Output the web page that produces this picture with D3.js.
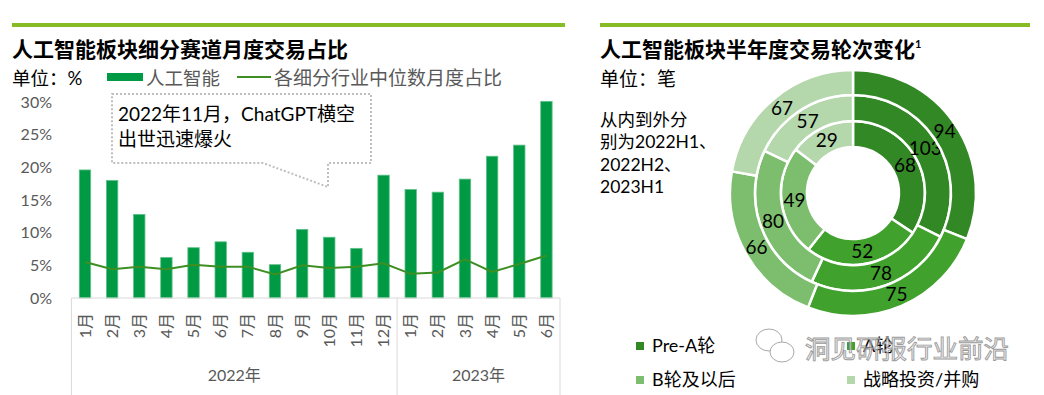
<!DOCTYPE html>
<html>
<head>
<meta charset="utf-8">
<script src="https://cdn.jsdelivr.net/npm/d3@7"></script>
<style>
  body { margin: 0; background: #fff; }
  svg { display: block; font-family: Lato, "Noto Sans CJK SC", sans-serif; }
</style>
</head>
<body>
<div id="chart-wrapper"></div>
<script>
let width = 1044, height = 395

// left chart data
let months = ["1月","2月","3月","4月","5月","6月","7月","8月","9月","10月","11月","12月","1月","2月","3月","4月","5月","6月"]
let years = ["2022年", "2023年"]
let aiShare = [19.6, 18.0, 12.8, 6.2, 7.7, 8.6, 7.0, 5.1, 10.5, 9.3, 7.6, 18.8, 16.6, 16.2, 18.2, 21.7, 23.4, 30.1]
let medianShare = [5.5, 4.4, 4.8, 4.4, 5.1, 4.8, 4.8, 3.6, 5.0, 4.6, 4.8, 5.3, 3.7, 3.9, 5.9, 4.0, 5.2, 6.5]
let yTicks = [0, 5, 10, 15, 20, 25, 30]

// right chart data (inner -> outer)
let rounds = ["Pre-A轮", "A轮", "B轮及以后", "战略投资/并购"]
let periods = ["2022H1", "2022H2", "2023H1"]
let h2022H1 = [68, 52, 49, 29]
let h2022H2 = [103, 78, 80, 57]
let h2023H1 = [94, 75, 66, 67]
let ringData = [h2022H1, h2022H2, h2023H1]

let color = ["#338826", "#40a22d", "#7cbe6e", "#b4d7ac"]
let gray = "#595959"

let svg = d3.select("#chart-wrapper").append("svg")
  .attr("width", width).attr("height", height)

// ---------- LEFT ----------
svg.append("rect").attr("x", 12).attr("y", 23).attr("width", 553).attr("height", 4).attr("fill", "#86bc25")
svg.append("text").attr("x", 12).attr("y", 57)
  .attr("font-size", 21).attr("font-weight", "bold").attr("fill", "#000")
  .text("人工智能板块细分赛道月度交易占比")
svg.append("text").attr("x", 12).attr("y", 85).attr("font-size", 18.5).attr("fill", "#000").text("单位：%")

// legend
svg.append("rect").attr("x", 107).attr("y", 73).attr("width", 36).attr("height", 8).attr("fill", "#009a44")
svg.append("text").attr("x", 146).attr("y", 85).attr("font-size", 18.5).attr("fill", gray).text("人工智能")
svg.append("line").attr("x1", 237).attr("x2", 271).attr("y1", 77).attr("y2", 77).attr("stroke", "#3d8f23").attr("stroke-width", 2)
svg.append("text").attr("x", 274).attr("y", 85).attr("font-size", 19).attr("fill", gray).text("各细分行业中位数月度占比")

let x = d3.scaleBand()
  .domain(d3.range(months.length))
  .range([71.4, 560])
  .paddingInner(0.58).paddingOuter(0.29)
let y = d3.scaleLinear().domain([0, 30]).range([298, 102])

let graph = svg.append("g")

// y labels
graph.append("g").attr("class", "yAxis")
  .selectAll("text").data(yTicks).enter().append("text")
  .attr("x", 52).attr("y", d => y(d)).attr("dy", "0.35em")
  .attr("text-anchor", "end").attr("font-size", 16).attr("fill", gray)
  .text(d => d + "%")

// bars
graph.selectAll(".bar").data(aiShare).enter().append("rect")
  .attr("class", "bar")
  .attr("x", (d, i) => x(i)).attr("width", x.bandwidth())
  .attr("y", d => y(d)).attr("height", d => y(0) - y(d))
  .attr("fill", "#009a44").attr("stroke", "#62c08a").attr("stroke-width", 0.8)

// median line
let line = d3.line().x((d, i) => x(i) + x.bandwidth() / 2).y(d => y(d))
graph.append("path").attr("d", line(medianShare))
  .attr("fill", "none").attr("stroke", "#3d8f23").attr("stroke-width", 2)

// multi-level category axis
let axisCol = "#d9d9d9"
let split = x.range()[0] + x.step() * 12
graph.append("line").attr("x1", 71.4).attr("x2", 560).attr("y1", 298).attr("y2", 298).attr("stroke", axisCol)
;[71.4, split, 560].forEach(v => {
  graph.append("line").attr("x1", v).attr("x2", v).attr("y1", 298).attr("y2", 395).attr("stroke", axisCol)
})
graph.selectAll(".month").data(months).enter().append("text")
  .attr("class", "month")
  .attr("transform", (d, i) => `translate(${x(i) + x.bandwidth() / 2},313) rotate(-90)`)
  .attr("dy", "0.35em").attr("text-anchor", "end")
  .attr("font-size", 16).attr("fill", gray)
  .text(d => d)
graph.selectAll(".year").data(years).enter().append("text")
  .attr("class", "year")
  .attr("x", (d, i) => i == 0 ? (71.4 + split) / 2 : (split + 560) / 2)
  .attr("y", 375).attr("dy", "0.35em").attr("text-anchor", "middle")
  .attr("font-size", 16).attr("fill", gray)
  .text(d => d)

// callout
svg.append("path")
  .attr("d", "M112,94 L371,94 L371,163 L328,163 L328,187 L263,163 L112,163 Z")
  .attr("fill", "#fff").attr("stroke", "#bfbfbf").attr("stroke-width", 2).attr("stroke-dasharray", "2,2")
svg.append("text").attr("x", 118).attr("y", 121).attr("font-size", 19).attr("fill", "#000")
  .text("2022年11月，ChatGPT横空")
svg.append("text").attr("x", 118).attr("y", 146).attr("font-size", 19).attr("fill", "#000")
  .text("出世迅速爆火")

// ---------- RIGHT ----------
svg.append("rect").attr("x", 600).attr("y", 23).attr("width", 430).attr("height", 4).attr("fill", "#86bc25")
let t2 = svg.append("text").attr("x", 600).attr("y", 57)
  .attr("font-size", 21).attr("font-weight", "bold").attr("fill", "#000")
t2.append("tspan").text("人工智能板块半年度交易轮次变化")
t2.append("tspan").attr("font-size", 11).attr("dy", -9).text("1")
svg.append("text").attr("x", 600).attr("y", 86).attr("font-size", 19).attr("fill", "#000").text("单位：笔")
;["从内到外分", "别为" + periods[0] + "、", periods[1] + "、", periods[2]].forEach((s, i) => {
  svg.append("text").attr("x", 600).attr("y", 126 + i * 22.3).attr("font-size", 17.5).attr("fill", "#000").text(s)
})

let donut = svg.append("g").attr("transform", "translate(853,193)")
let pie = d3.pie().sort(null).value(d => d)
let radii = [[46, 72], [72, 98], [98, 123]]
ringData.forEach((vals, r) => {
  let arc = d3.arc().innerRadius(radii[r][0]).outerRadius(radii[r][1])
  let g = donut.append("g")
  let arcs = pie(vals)
  g.selectAll("path").data(arcs).enter().append("path")
    .attr("d", arc).attr("fill", (d, i) => color[i])
    .attr("stroke", "#fff").attr("stroke-width", 2.5)
  g.selectAll("text").data(arcs).enter().append("text")
    .attr("transform", d => `translate(${arc.centroid(d)})`)
    .attr("dy", "0.35em").attr("text-anchor", "middle")
    .attr("font-size", 19).attr("fill", "#000")
    .text(d => d.data)
})

// legend
let legPos = [[636, 346], [847, 346], [636, 380], [847, 380]]
rounds.forEach((r, i) => {
  svg.append("rect").attr("x", legPos[i][0]).attr("y", legPos[i][1] - 4).attr("width", 8).attr("height", 8).attr("fill", color[i])
  svg.append("text").attr("x", legPos[i][0] + 16).attr("y", legPos[i][1]).attr("dy", "0.35em")
    .attr("font-size", 18).attr("fill", "#000").text(r)
})

// watermark
let wm = svg.append("g").attr("opacity", 0.85)
wm.append("ellipse").attr("cx", 769).attr("cy", 340).attr("rx", 13).attr("ry", 11)
  .attr("fill", "#fff").attr("stroke", "#9a9a9a").attr("stroke-width", 1)
wm.append("ellipse").attr("cx", 782).attr("cy", 352).attr("rx", 12).attr("ry", 10)
  .attr("fill", "#fff").attr("stroke", "#9a9a9a").attr("stroke-width", 1)
wm.append("text").attr("x", 805).attr("y", 358).attr("font-size", 25.5)
  .attr("fill", "rgba(235,235,235,0.75)").attr("stroke", "#8a8a8a").attr("stroke-width", 0.9)
  .text("洞见研报行业前沿")
</script>
</body>
</html>
